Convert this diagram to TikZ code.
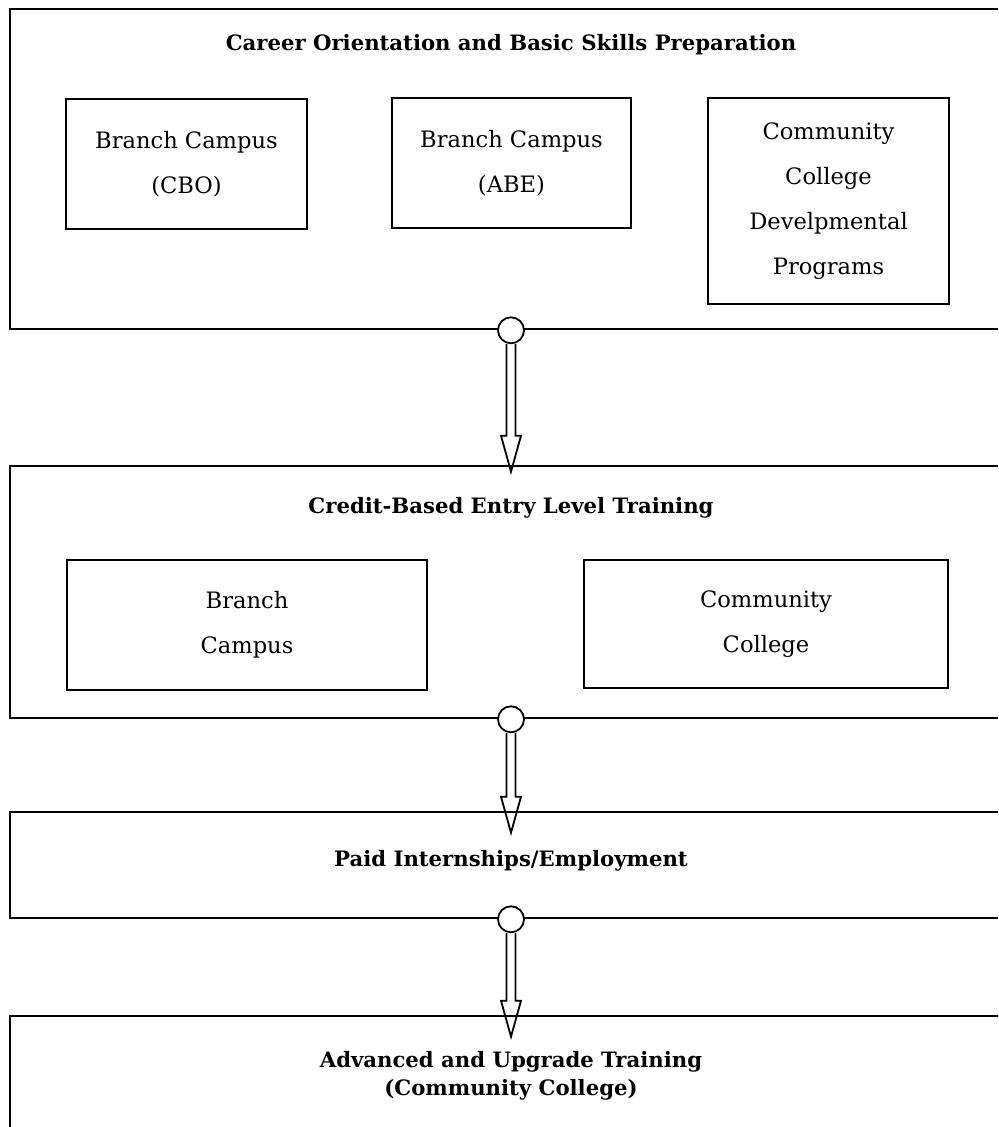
\documentclass[tikz,border=0pt]{standalone}
\usepackage{fontspec}
\setmainfont{DejaVu Serif}
\usepackage{tikz}
\usetikzlibrary{calc}

\tikzset{
  frame/.style={draw, line width=1.3pt, minimum width=501pt, inner sep=0pt},
  unit/.style={draw, line width=1.1pt, align=center, inner sep=0pt,
    font=\fontsize{11.3}{22.5}\selectfont},
  heading/.style={align=center, font=\bfseries\fontsize{10.6}{14}\selectfont},
  ring/.style={circle, draw, fill=white, line width=0.9pt, minimum size=13pt, inner sep=0pt},
  pipe/.style={line width=0.9pt, to path={let \p1=(\tikztostart), \p2=(\tikztotarget) in
    (\x1-2.25pt,\y1) -- (\x1-2.25pt,\y2+18pt) -- (\x1-5pt,\y2+18pt) -- (\x2,\y2)
    -- (\x1+5pt,\y2+18pt) -- (\x1+2.25pt,\y2+18pt) -- (\x1+2.25pt,\y1)}}
}

\begin{document}
\begin{tikzpicture}[x=0.5pt,y=-0.5pt]
  \useasboundingbox (0,0) rectangle (998,1127);
  \clip (0,0) rectangle (998,1127);

  \node[frame, minimum height=160pt] (prep) at (511,169) {};
  \node[heading] (prephead) at (511,45) {Career Orientation and Basic Skills Preparation};
  \node[unit, minimum width=120.5pt, minimum height=65pt] (cbo) at (186.5,164) {Branch Campus\\(CBO)};
  \node[unit, minimum width=119.5pt, minimum height=65pt] (abe) at (511.5,163) {Branch Campus\\(ABE)};
  \node[unit, minimum width=120.5pt, minimum height=103pt] (devel) at (828.5,201)
    {Community\\College\\Develpmental\\Programs};

  \node[frame, minimum height=126pt] (credit) at (511,592) {};
  \node[heading] (credithead) at (511,508) {Credit-Based Entry Level Training};
  \node[unit, minimum width=180pt, minimum height=65pt] (branch) at (247,625) {Branch\\Campus};
  \node[unit, minimum width=182pt, minimum height=64pt] (college) at (766,624) {Community\\College};

  \node[frame, minimum height=53pt] (paid) at (511,865) {};
  \node[heading] (paidhead) at (511,861) {Paid Internships/Employment};

  \node[frame, minimum height=72pt] (adv) at (511,1088) {};
  \node[heading] (advhead) at (511,1076) {Advanced and Upgrade Training\\(Community College)};

  \coordinate (tip1) at ([yshift=-3.5pt]credit.north);
  \coordinate (tip2) at ([yshift=-11pt]paid.north);
  \coordinate (tip3) at ([yshift=-11pt]adv.north);

  \node[ring] (ring1) at (prep.south) {};
  \node[ring] (ring2) at (credit.south) {};
  \node[ring] (ring3) at (paid.south) {};

  \draw[pipe] (ring1.south) to (tip1);
  \draw[pipe] (ring2.south) to (tip2);
  \draw[pipe] (ring3.south) to (tip3);
\end{tikzpicture}
\end{document}
